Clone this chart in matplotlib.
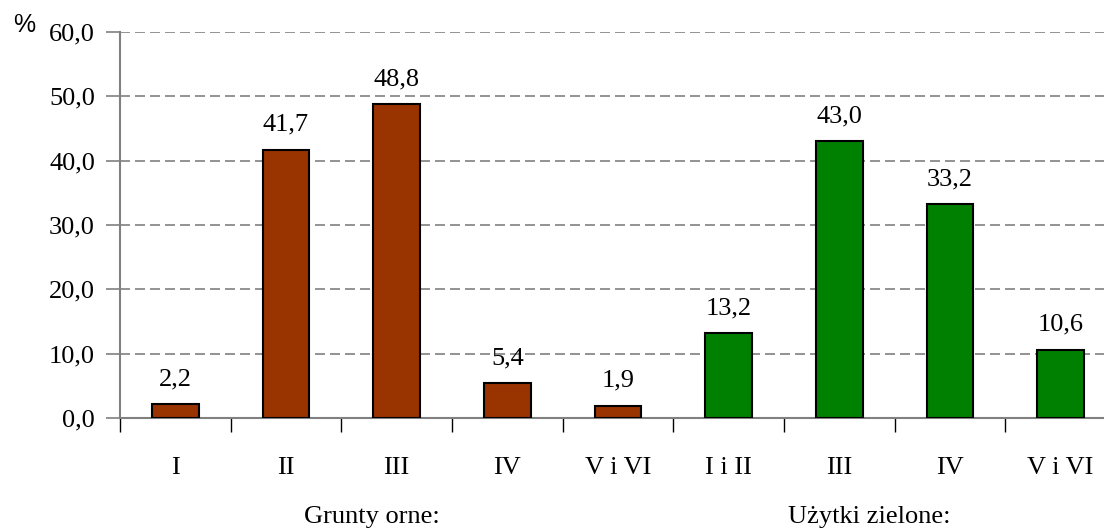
import matplotlib
matplotlib.use("Agg")
import matplotlib.pyplot as plt
import matplotlib.transforms as mtransforms
import numpy as np

categories = ["I", "II", "III", "IV", "V i VI", "I i II", "III", "IV", "V i VI"]
values = [2.2, 41.7, 48.8, 5.4, 1.9, 13.2, 43.0, 33.2, 10.6]
groups = ["orne"] * 5 + ["zielone"] * 4
group_labels = ["Grunty orne:", "Użytki zielone:"]
group_colors = {"orne": "#993300", "zielone": "#008000"}
y_ticks = [0, 10, 20, 30, 40, 50, 60]

plt.rcParams["font.family"] = ["Liberation Serif", "DejaVu Serif"]
FS = 19

fig = plt.figure(figsize=(11.04, 5.28), dpi=100)
ax = fig.add_axes([120 / 1104, 1 - 418 / 528, 996 / 1104, 386 / 528])

x = np.arange(len(categories))
ax.bar(x, values, width=0.42, color=[group_colors[g] for g in groups],
       edgecolor="black", linewidth=1.5, zorder=3)

for xi, v in zip(x, values):
    ax.annotate(f"{v:.1f}".replace(".", ","), (xi, v), xytext=(0, 10),
                textcoords="offset points", ha="center", va="bottom", fontsize=FS)

ax.set_xlim(-0.5, len(categories) - 0.5)
ax.set_ylim(0, 60)
ax.set_yticks(y_ticks)
ax.set_yticklabels([f"{t:.1f}".replace(".", ",") for t in y_ticks], fontsize=FS)
ax.yaxis.grid(True, linestyle=(0, (6, 3)), color="#808080", linewidth=1.2, zorder=0)

ax.set_xticks(np.arange(len(categories) + 1) - 0.5)
ax.set_xticklabels([])
ax.set_xticks(x, minor=True)
ax.set_xticklabels(categories, minor=True, fontsize=FS)
ax.tick_params(axis="x", which="major", length=10, width=1, color="black", direction="out")
ax.tick_params(axis="x", which="minor", length=0, pad=28)
ax.tick_params(axis="y", length=10, width=1.2, color="#808080", pad=8)

for side in ["top", "right"]:
    ax.spines[side].set_visible(False)
for side in ["left", "bottom"]:
    ax.spines[side].set_color("#808080")
    ax.spines[side].set_linewidth(1.5)

trans = mtransforms.blended_transform_factory(ax.transData, fig.transFigure)
ax.text(1.78, 1 - 523 / 528, group_labels[0], transform=trans, ha="center", va="baseline",
        fontsize=FS, clip_on=False)
ax.text(6.27, 1 - 523 / 528, group_labels[1], transform=trans, ha="center", va="baseline",
        fontsize=FS, clip_on=False)
fig.text(24 / 1104, 1 - 25 / 528, "%", ha="center", va="center", fontsize=18,
         family=["Liberation Sans", "DejaVu Sans"])

fig.savefig("out.png", dpi=100)
